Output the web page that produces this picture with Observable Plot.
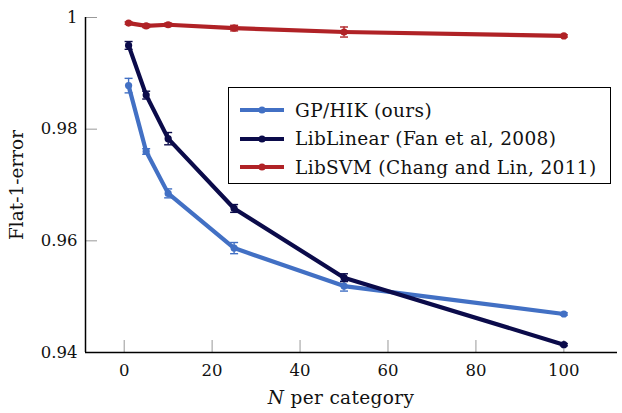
<!DOCTYPE html>
<html><head><meta charset="utf-8">
<script src="https://cdn.jsdelivr.net/npm/d3@7"></script>
<script src="https://cdn.jsdelivr.net/npm/@observablehq/plot@0.6"></script>
<style>
body{margin:0;background:#fff;}
#wrap{position:relative;width:622px;height:413px;font-family:"DejaVu Serif",serif;}
#legend{position:absolute;left:228px;top:87px;width:381px;height:95px;border:1.5px solid #000;background:#fff;box-sizing:content-box;}
.row{position:absolute;left:10px;height:28px;display:flex;align-items:center;font-size:18.5px;letter-spacing:0.35px;color:#111;white-space:nowrap;}
.row svg{margin-right:10px;}
</style></head>
<body><div id="wrap"><div id="legend"></div></div>
<script>
const seriesNames = ["GP/HIK (ours)", "LibLinear (Fan et al, 2008)", "LibSVM (Chang and Lin, 2011)"];
const colors = ["#4270c4", "#0b0b4a", "#b02226"];
const nValues = [1, 5, 10, 25, 50, 100];
const gpValues = [0.9878, 0.9760, 0.9685, 0.9587, 0.9519, 0.9469];
const gpErrors = [0.0013, 0.0005, 0.0008, 0.0010, 0.0009, 0.0002];
const linValues = [0.9950, 0.9861, 0.9783, 0.9658, 0.9534, 0.9414];
const linErrors = [0.0007, 0.0007, 0.0011, 0.0007, 0.0007, 0.0002];
const svmValues = [0.9990, 0.9985, 0.9987, 0.9981, 0.9974, 0.9967];
const svmErrors = [0.0002, 0.0003, 0.0003, 0.0005, 0.0009, 0.0002];
const xTicks = [0, 20, 40, 60, 80, 100];
const yTicks = [0.94, 0.96, 0.98, 1];

const allValues = [gpValues, linValues, svmValues];
const allErrors = [gpErrors, linErrors, svmErrors];
const data = [];
seriesNames.forEach((s, i) => nValues.forEach((n, j) => data.push({series: s, n, v: allValues[i][j], e: allErrors[i][j]})));

const capSymbol = {draw(ctx, size){ const r = Math.sqrt(size/Math.PI); ctx.moveTo(-r,0); ctx.lineTo(r,0); }};
const xDomain = [-8.8, 112.2];
const yDomain = [0.94, 1];
const W = 622, H = 413, mL = 85, mR = 5, mT = 17, mB = 61;
const frameW = W - mL - mR, frameH = H - mT - mB;

const marks = [
  Plot.tickX(xTicks, {x: d => d, stroke: "#999", strokeWidth: 1, insetTop: frameH - 12}),
  Plot.tickY(yTicks, {y: d => d, stroke: "#999", strokeWidth: 1, insetRight: frameW - 12}),
  Plot.axisX(xTicks, {tickSize: 0, tickPadding: 12, fontSize: 16.5, fill: "#111", label: null}),
  Plot.axisY(yTicks, {tickSize: 0, tickPadding: 8, fontSize: 16.5, fill: "#111", label: null, tickFormat: d => d === 1 ? "1" : d3.format(".2f")(d)}),
];
seriesNames.forEach((s, i) => {
  const d = data.filter(r => r.series === s);
  marks.push(
    Plot.line(d, {x: "n", y: "v", stroke: colors[i], strokeWidth: 4.2, strokeLinejoin: "round"}),
    Plot.ruleX(d, {x: "n", y1: r => r.v - r.e, y2: r => r.v + r.e, stroke: colors[i], strokeWidth: 1.4}),
    Plot.dot(d, {x: "n", y: r => r.v - r.e, symbol: capSymbol, r: 4, stroke: colors[i], strokeWidth: 1.4}),
    Plot.dot(d, {x: "n", y: r => r.v + r.e, symbol: capSymbol, r: 4, stroke: colors[i], strokeWidth: 1.4}),
    Plot.dot(d, {x: "n", y: "v", r: 3.6, fill: colors[i], stroke: "none"})
  );
});
marks.push(
  Plot.ruleX([xDomain[0]], {stroke: "#000", strokeWidth: 1.5}),
  Plot.ruleY([yDomain[0]], {stroke: "#000", strokeWidth: 1.5}),
  Plot.text(["Flat-1-error"], {frameAnchor: "left", textAnchor: "middle", rotate: -90, dx: -68, dy: 0, fontSize: 18.5, fill: "#111"})
);

const plot = Plot.plot({
  width: W, height: H,
  marginLeft: mL, marginRight: mR, marginTop: mT, marginBottom: mB,
  style: {fontFamily: "'DejaVu Serif', serif", background: "#fff", overflow: "visible"},
  x: {domain: xDomain},
  y: {domain: yDomain},
  marks
});
const wrap = document.getElementById("wrap");
wrap.insertBefore(plot, wrap.firstChild);

// x label with italic N
const svg = d3.select(plot);
const t = svg.append("text").attr("x", 341).attr("y", 404).attr("text-anchor", "middle")
  .attr("font-size", 18.5).attr("letter-spacing", 0.35).attr("fill", "#111").attr("font-family", "'DejaVu Serif', serif");
t.append("tspan").attr("font-style", "italic").text("N");
t.append("tspan").text(" per category");

// legend
const leg = document.getElementById("legend");
seriesNames.forEach((s, i) => {
  const row = document.createElement("div");
  row.className = "row";
  row.style.top = (8 + i * 28.5) + "px";
  row.innerHTML = `<svg width="46" height="12"><line x1="1" x2="45" y1="6" y2="6" stroke="${colors[i]}" stroke-width="4.2"/><circle cx="23" cy="6" r="3.6" fill="${colors[i]}"/></svg><span>${s}</span>`;
  leg.appendChild(row);
});
</script></body></html>
